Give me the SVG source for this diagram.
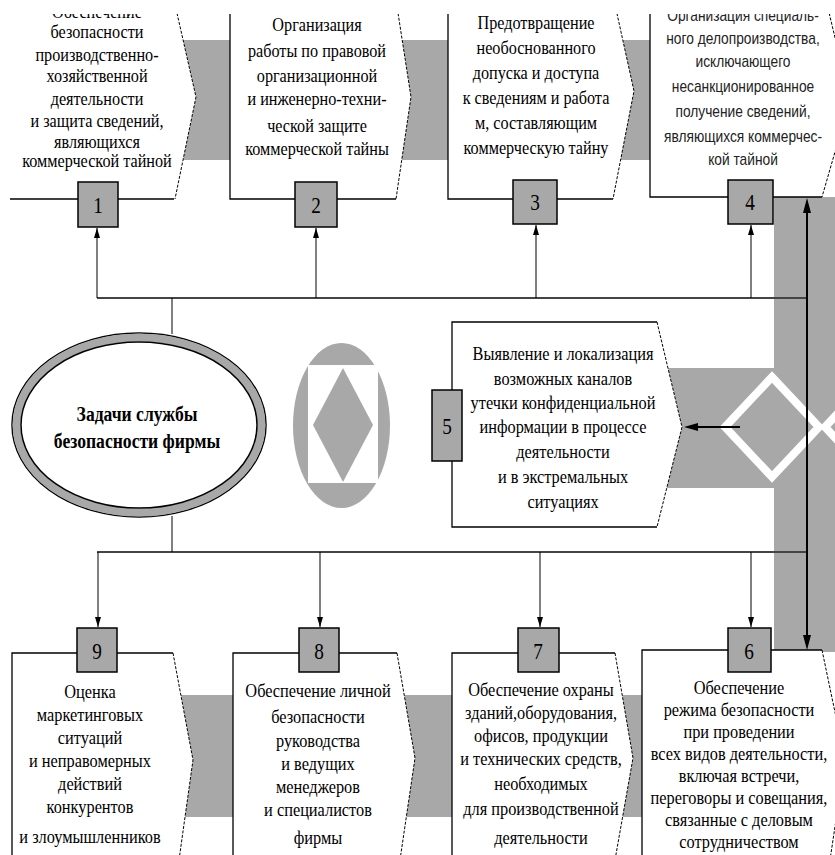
<svg xmlns="http://www.w3.org/2000/svg" width="835" height="855" viewBox="0 0 835 855">
<defs>
<style>
.t{font-family:"Liberation Serif","DejaVu Serif",serif;font-size:18px;text-anchor:middle;fill:#000}
.tb{font-family:"Liberation Serif","DejaVu Serif",serif;font-size:19px;text-anchor:middle;fill:#000}
.ts{font-family:"Liberation Sans",Arial,sans-serif;font-size:16px;text-anchor:middle;fill:#222}
.tt{font-family:"Liberation Serif","DejaVu Serif",serif;font-size:20px;font-weight:bold;text-anchor:middle;fill:#000}
.num{font-family:"Liberation Serif","DejaVu Serif",serif;font-size:24px;text-anchor:middle;fill:#000}
.band{fill:#a8a8a8}
.bx{fill:#fff;stroke:none}
.bo{fill:none;stroke:#000;stroke-width:1.3}
.be{fill:none;stroke:#000;stroke-width:1;stroke-dasharray:3 1.5}
.nb{fill:#a8a8a8;stroke:#000;stroke-width:1.5}
.bus{fill:none;stroke:#444;stroke-width:2}
.ln{fill:none;stroke:#000;stroke-width:1}
.ar{fill:none;stroke:#000;stroke-width:1;marker-end:url(#ah)}
.thick{fill:none;stroke:#000;stroke-width:2}
</style>
<marker id="ah" viewBox="0 0 10 6" refX="10" refY="3" markerWidth="10" markerHeight="6" orient="auto-start-reverse" markerUnits="userSpaceOnUse"><path d="M0,0 L10,3 L0,6 z" fill="#000"/></marker>
<clipPath id="clip"><rect x="0" y="14" width="835" height="841"/></clipPath>
</defs>
<rect width="835" height="855" fill="#fff"/>
<g clip-path="url(#clip)">
<g id="background">
<rect class="band" x="150" y="40" width="520" height="120"/>
<rect class="band" x="774" y="197" width="61" height="455"/>
<rect class="band" x="660" y="368" width="175" height="120"/>
<rect class="band" x="160" y="695" width="500" height="122"/>
<polygon points="772,377 819,427 772,477 725,427" fill="none" stroke="#fff" stroke-width="8"/>
<polygon points="872,377 919,427 872,477 825,427" fill="none" stroke="#fff" stroke-width="8"/>
<ellipse cx="341.5" cy="425.5" rx="48.5" ry="82.5" fill="#a8a8a8"/>
<rect x="308" y="365" width="70" height="118" fill="#fff"/>
<polygon points="343,368 373,425 343,482 313,425" fill="#a8a8a8"/>
</g>

<g id="node1">
<polygon class="bx" points="-5,0 174,0 196,97 175,199 -5,199"/>
<path class="bo" d="M174,199 H10"/>
<path class="be" d="M174,0 L196,97 L175,199"/>
<text class="t" transform="translate(97,0) scale(0.9,1)"><tspan x="0" y="18">Обеспечение</tspan><tspan x="0" y="38">безопасности</tspan><tspan x="0" y="61">производственно-</tspan><tspan x="0" y="82">хозяйственной</tspan><tspan x="0" y="105">деятельности</tspan><tspan x="0" y="127">и защита сведений,</tspan><tspan x="0" y="148">являющихся</tspan><tspan x="0" y="167">коммерческой тайной</tspan></text>
<rect class="nb" x="78" y="182" width="40" height="45"/>
<text class="num" transform="translate(98,0) scale(0.8,1)"><tspan x="0" y="213">1</tspan></text>
</g>

<g id="node2">
<polygon class="bx" points="230,0 396,0 411,97 396,199 230,199"/>
<path class="bo" d="M230,0 V199 H396"/>
<path class="be" d="M396,0 L411,97 L396,199"/>
<text class="t" transform="translate(317,0) scale(0.9,1)"><tspan x="0" y="31">Организация</tspan><tspan x="0" y="57">работы по правовой</tspan><tspan x="0" y="82">организационной</tspan><tspan x="0" y="105">и инженерно-техни-</tspan><tspan x="0" y="132">ческой защите</tspan><tspan x="0" y="155">коммерческой тайны</tspan></text>
<rect class="nb" x="295" y="182" width="42" height="45"/>
<text class="num" transform="translate(316,0) scale(0.8,1)"><tspan x="0" y="213">2</tspan></text>
</g>

<g id="node3">
<polygon class="bx" points="448,0 614,0 634,91 613,199 448,199"/>
<path class="bo" d="M448,0 V199 H613"/>
<path class="be" d="M614,0 L634,91 L613,199"/>
<text class="t" transform="translate(536,0) scale(0.9,1)"><tspan x="0" y="29">Предотвращение</tspan><tspan x="0" y="54">необоснованного</tspan><tspan x="0" y="79">допуска и доступа</tspan><tspan x="0" y="104">к сведениям и работа</tspan><tspan x="0" y="129">м, составляющим</tspan><tspan x="0" y="154">коммерческую тайну</tspan></text>
<rect class="nb" x="513" y="180" width="44" height="44"/>
<text class="num" transform="translate(535,0) scale(0.8,1)"><tspan x="0" y="210">3</tspan></text>
</g>

<g id="node4">
<polygon class="bx" points="650,0 826,0 850,100 822,197 650,197"/>
<path class="bo" d="M650,0 V197 H822"/>
<path class="be" d="M826,0 L850,100 L822,197"/>
<text class="ts" transform="translate(743,0) scale(0.86,1)"><tspan x="0" y="21">Организация специаль-</tspan><tspan x="0" y="44">ного делопроизводства,</tspan><tspan x="0" y="67">исключающего</tspan><tspan x="0" y="92">несанкционированное</tspan><tspan x="0" y="117">получение сведений,</tspan><tspan x="0" y="142">являющихся коммерчес-</tspan><tspan x="0" y="165">кой тайной</tspan></text>
<rect class="nb" x="728" y="180" width="45" height="44"/>
<text class="num" transform="translate(750,0) scale(0.8,1)"><tspan x="0" y="210">4</tspan></text>
</g>

<g id="node0">
<ellipse cx="139" cy="425" rx="127" ry="92" fill="#fff" stroke="#000" stroke-width="1.5"/>
<ellipse cx="139" cy="425" rx="122.5" ry="87.5" fill="none" stroke="#a8a8a8" stroke-width="8"/>
<ellipse cx="139" cy="425" rx="118" ry="83" fill="#fff" stroke="#000" stroke-width="1.5"/>
<text class="tt" transform="translate(137,0) scale(0.88,1)"><tspan x="0" y="421">Задачи службы</tspan><tspan x="0" y="448">безопасности фирмы</tspan></text>
</g>

<g id="node5">
<polygon points="452,322 657,322 682,427 657,527 452,527" fill="#fff"/>
<path class="bo" d="M657,322 H452 V527 H657"/>
<path class="be" d="M657,322 L682,427 L657,527"/>
<text class="tb" transform="translate(563,0) scale(0.86,1)"><tspan x="0" y="360">Выявление и локализация</tspan><tspan x="0" y="385">возможных каналов</tspan><tspan x="0" y="409">утечки конфиденциальной</tspan><tspan x="0" y="433">информации в процессе</tspan><tspan x="0" y="458">деятельности</tspan><tspan x="0" y="483">и в экстремальных</tspan><tspan x="0" y="508">ситуациях</tspan></text>
<rect class="nb" x="432" y="390" width="30" height="71"/>
<text class="num" transform="translate(447,0) scale(0.8,1)"><tspan x="0" y="434">5</tspan></text>
</g>

<g id="node9">
<polygon class="bx" points="12,653 173,653 193,760 179,860 12,860"/>
<path class="bo" d="M12,860 V653 H173"/>
<path class="be" d="M173,653 L193,760 L179,860"/>
<text class="tb" transform="translate(90,0) scale(0.86,1)"><tspan x="0" y="698">Оценка</tspan><tspan x="0" y="721">маркетинговых</tspan><tspan x="0" y="744">ситуаций</tspan><tspan x="0" y="767">и неправомерных</tspan><tspan x="0" y="790">действий</tspan><tspan x="0" y="813">конкурентов</tspan><tspan x="0" y="843">и злоумышленников</tspan></text>
<rect class="nb" x="77" y="628" width="40" height="44"/>
<text class="num" transform="translate(97,0) scale(0.8,1)"><tspan x="0" y="659">9</tspan></text>
</g>

<g id="node8">
<polygon class="bx" points="233,653 397,653 415,758 400,860 233,860"/>
<path class="bo" d="M233,860 V653 H397"/>
<path class="be" d="M397,653 L415,758 L400,860"/>
<text class="tb" transform="translate(318,0) scale(0.86,1)"><tspan x="0" y="697">Обеспечение  личной</tspan><tspan x="0" y="723">безопасности</tspan><tspan x="0" y="747">руководства</tspan><tspan x="0" y="770">и ведущих</tspan><tspan x="0" y="793">менеджеров</tspan><tspan x="0" y="816">и специалистов</tspan><tspan x="0" y="844">фирмы</tspan></text>
<rect class="nb" x="299" y="628" width="40" height="44"/>
<text class="num" transform="translate(319,0) scale(0.8,1)"><tspan x="0" y="659">8</tspan></text>
</g>

<g id="node7">
<polygon class="bx" points="452,653 615,653 633,758 615,860 452,860"/>
<path class="bo" d="M452,860 V653 H615"/>
<path class="be" d="M615,653 L633,758 L615,860"/>
<text class="tb" transform="translate(541,0) scale(0.86,1)"><tspan x="0" y="696">Обеспечение охраны</tspan><tspan x="0" y="719">зданий,оборудования,</tspan><tspan x="0" y="742">офисов, продукции</tspan><tspan x="0" y="765">и технических средств,</tspan><tspan x="0" y="790">необходимых</tspan><tspan x="0" y="815">для производственной</tspan><tspan x="0" y="844">деятельности</tspan></text>
<rect class="nb" x="518" y="628" width="41" height="44"/>
<text class="num" transform="translate(538,0) scale(0.8,1)"><tspan x="0" y="659">7</tspan></text>
</g>

<g id="node6">
<polygon class="bx" points="642,650 822,650 845,760 830,860 642,860"/>
<path class="bo" d="M642,860 V650 H822"/>
<path class="be" d="M822,650 L845,760 L830,860"/>
<text class="tb" transform="translate(739,0) scale(0.86,1)"><tspan x="0" y="694">Обеспечение</tspan><tspan x="0" y="716">режима безопасности</tspan><tspan x="0" y="738">при проведении</tspan><tspan x="0" y="760">всех видов деятельности,</tspan><tspan x="0" y="782">включая встречи,</tspan><tspan x="0" y="804">переговоры и совещания,</tspan><tspan x="0" y="826">связанные с деловым</tspan><tspan x="0" y="848">сотрудничеством</tspan></text>
<rect class="nb" x="728" y="628" width="43" height="44"/>
<text class="num" transform="translate(749,0) scale(0.8,1)"><tspan x="0" y="659">6</tspan></text>
</g>

<g id="connectors">
<path class="bus" d="M97,298 H806"/>
<path class="bus" d="M97,552 H808"/>
<path class="ln" d="M172,298 V334"/>
<path class="ln" d="M172,516 V552"/>
<path class="ar" d="M97,298 V228"/>
<path class="ar" d="M316,298 V228"/>
<path class="ar" d="M536,298 V225"/>
<path class="ar" d="M751,298 V225"/>
<path class="ar" d="M98,552 V627"/>
<path class="ar" d="M320,552 V627"/>
<path class="ar" d="M540,552 V627"/>
<path class="ar" d="M751,552 V627"/>
<path class="thick" d="M807,212 V636"/>
<path d="M807,198 L803,213 L811,213 z" fill="#000"/>
<path d="M807,650 L803,635 L811,635 z" fill="#000"/>
<path class="thick" d="M740,427 H697"/>
<path d="M684,427 L698,423 L698,431 z" fill="#000"/>
</g>
</g>
</svg>
